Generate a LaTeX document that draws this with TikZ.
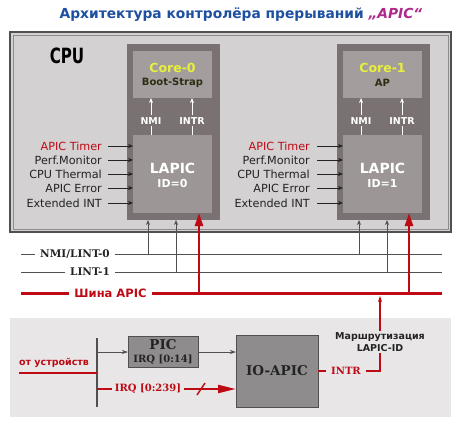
\documentclass[tikz,border=0pt]{standalone}
\usepackage{fontspec}
\usepackage{graphicx}
\setmainfont{DejaVu Sans}
\newfontfamily\slabf{DejaVu Serif}
\usetikzlibrary{arrows.meta}
\definecolor{titleblue}{RGB}{30,80,160}
\definecolor{apicmag}{RGB}{175,40,140}
\definecolor{cpufill}{RGB}{211,209,209}
\definecolor{cpuedge}{RGB}{80,80,80}
\definecolor{cpuinner}{RGB}{140,140,140}
\definecolor{coreout}{RGB}{122,114,114}
\definecolor{corein}{RGB}{163,157,157}
\definecolor{lapicfill}{RGB}{156,150,150}
\definecolor{coreyellow}{RGB}{232,240,60}
\definecolor{olivetxt}{RGB}{45,45,20}
\definecolor{darkred}{RGB}{190,10,20}
\definecolor{busgray}{RGB}{80,80,80}
\definecolor{panelfill}{RGB}{232,230,230}
\definecolor{boxgray}{RGB}{142,140,140}
\definecolor{txtdark}{RGB}{35,35,35}
\begin{document}
\begin{tikzpicture}[x=1pt,y=-1pt,
  box/.style={anchor=north west, inner sep=0pt, outer sep=0pt},
  sidelab/.style={anchor=east, inner sep=1pt, font=\fontsize{11.2}{12}\selectfont, text=txtdark},
  inarrow/.style={draw=txtdark, line width=0.8pt, -{Stealth[length=5pt,width=4pt]}},
  whitearrow/.style={draw=white, line width=0.8pt, -{Stealth[length=5pt,width=4pt]}},
  grayup/.style={draw=busgray, line width=0.8pt, -{Stealth[length=5pt,width=4pt]}},
  redup/.style={draw=darkred, line width=2.5pt, -{Triangle[length=13pt,width=8pt]}},
  thinbus/.style={draw=busgray, line width=0.7pt},
  redbus/.style={draw=darkred, line width=3pt},
  buslab/.style={inner xsep=5pt, inner ysep=1pt, font=\slabf\bfseries\fontsize{10.5}{12}\selectfont, text=txtdark},
  nmilab/.style={fill=coreout, inner xsep=1pt, inner ysep=2pt, font=\bfseries\fontsize{9.5}{11}\selectfont, text=white},
  redthin/.style={draw=darkred, line width=1.2pt},
  redthick/.style={draw=darkred, line width=2.2pt},
  grayarrow/.style={draw=busgray, line width=0.8pt, -{Stealth[length=6pt,width=4pt]}}
]
\path[use as bounding box, fill=white] (0,0) rectangle (461,431);

% title
\node[font=\fontsize{13.8}{15}\selectfont\bfseries, text=titleblue] (title) at (241,15)
  {Архитектура контролёра прерываний {\color{apicmag}\itshape „APIC“}};

% CPU frame
\node[box, fill=cpufill, draw=cpuedge, line width=2pt, minimum width=441pt, minimum height=200pt] (cpu) at (10,32) {};
\node[box, draw=cpuinner, line width=0.8pt, minimum width=435pt, minimum height=194pt] (cpuin) at (13,35) {};
\node[font=\fontsize{21}{21}\selectfont\bfseries, text=black] (cpulab) at (67,56) {\scalebox{0.72}[1]{CPU}};

% cores
\foreach \n/\x/\name/\sub/\idn in {0/127/Core-0/Boot-Strap/0, 1/337/Core-1/AP/1} {
  \node[box, fill=coreout, minimum width=93pt, minimum height=176pt] (core\n) at (\x,44) {};
  \node[box, fill=corein, minimum width=79pt, minimum height=47pt] (cin\n) at (\x+6,51) {};
  \node[box, fill=lapicfill, minimum width=79pt, minimum height=78pt] (lapic\n) at (\x+6,135) {};
  \node[font=\fontsize{12.5}{13}\selectfont\bfseries, text=coreyellow] (ct\n) at (\x+45.5,68) {\name};
  \node[font=\fontsize{10}{11}\selectfont\bfseries, text=olivetxt] (cs\n) at (\x+45.5,83) {\sub};
  \node[font=\fontsize{14}{15}\selectfont\bfseries, text=white] (lt\n) at (\x+45.5,168) {LAPIC};
  \node[font=\fontsize{11}{12}\selectfont\bfseries, text=white] (li\n) at (\x+45.5,183) {ID=\idn};
  \coordinate (nx\n) at (\x+24,135);
  \coordinate (ix\n) at (\x+65,135);
  \draw[whitearrow] (nx\n) -- (nx\n |- cin\n.south) node[nmilab, pos=0.38] (nmi\n) {NMI};
  \draw[whitearrow] (ix\n) -- (ix\n |- cin\n.south) node[nmilab, pos=0.38] (intr\n) {INTR};
}

% side inputs
\foreach \lab/\y/\c [count=\i] in {APIC Timer/146/darkred, Perf.Monitor/160/txtdark, CPU Thermal/174/txtdark, APIC Error/188/txtdark, Extended INT/203/txtdark} {
  \node[sidelab, text=\c] (sa\i) at (103,\y) {\lab};
  \draw[inarrow] ([xshift=5pt]sa\i.east) -- (sa\i.east -| lapic0.west);
  \node[sidelab, text=\c] (sb\i) at (311,\y) {\lab};
  \draw[inarrow] ([xshift=6pt]sb\i.east) -- (sb\i.east -| lapic1.west);
}

% buses
\coordinate (n0L) at (21,254); \coordinate (n0R) at (442,254);
\node[buslab] (n0lab) at (75,254) {NMI/LINT-0};
\draw[thinbus] (n0L) -- (n0lab.west);
\draw[thinbus] (n0lab.east) -- (n0R);
\coordinate (n1L) at (21,272); \coordinate (n1R) at (442,272);
\node[buslab] (n1lab) at (90,272) {LINT-1};
\draw[thinbus] (n1L) -- (n1lab.west);
\draw[thinbus] (n1lab.east) -- (n1R);
\coordinate (bL) at (21,293); \coordinate (bR) at (442,293);
\node[inner xsep=5pt, inner ysep=1pt, font=\fontsize{11.5}{12}\selectfont\bfseries, text=darkred] (blab) at (110.5,293) {Шина APIC};
\draw[redbus] (bL) -- (blab.west);
\draw[redbus] (blab.east) -- (bR);

% bus to LAPIC arrows
\coordinate (g00) at (148,254); \coordinate (g01) at (176,272); \coordinate (r0) at (199,293);
\coordinate (g10) at (359,254); \coordinate (g11) at (387,272); \coordinate (r1) at (409,293);
\draw[grayup] (g00) -- (g00 |- core0.south);
\draw[grayup] (g01) -- (g01 |- core0.south);
\draw[grayup] (g10) -- (g10 |- core1.south);
\draw[grayup] (g11) -- (g11 |- core1.south);
\draw[redup] (r0) -- (r0 |- lapic0.south);
\draw[redup] (r1) -- (r1 |- lapic1.south);

% bottom panel
\node[box, fill=panelfill, minimum width=441pt, minimum height=99pt] (panel) at (10,318) {};
\coordinate (barT) at (97,338); \coordinate (barB) at (97,407);
\draw[draw=busgray, line width=2pt] (barT) -- (barB);
\node[font=\fontsize{9.5}{10}\selectfont\bfseries, text=darkred] (dev) at (54,363) {от устройств};
\coordinate (devL) at (19,373);
\draw[redthick] (devL) -- (devL -| barT);

\node[box, fill=boxgray, draw=busgray, line width=0.8pt, minimum width=70pt, minimum height=31pt] (pic) at (128,336) {};
\node[font=\slabf\bfseries\fontsize{13.5}{14}\selectfont, text=txtdark] (pict) at (163,345) {PIC};
\node[font=\slabf\bfseries\fontsize{10}{11}\selectfont, text=txtdark] (picirq) at (163,360) {IRQ [0:14]};
\node[box, fill=boxgray, draw=busgray, line width=0.8pt, minimum width=82pt, minimum height=72pt] (io) at (236,335) {};
\node[font=\slabf\bfseries\fontsize{13.5}{15}\selectfont, text=txtdark] (iot) at (277,371) {IO-APIC};

\coordinate (a1) at (97,352);
\draw[grayarrow] (a1) -- (a1 -| pic.west);
\draw[grayarrow] (a1 -| pic.east) -- (a1 -| io.west);

\node[inner xsep=3pt, font=\slabf\bfseries\fontsize{10}{11}\selectfont, text=darkred] (irq) at (148,389) {IRQ [0:239]};
\draw[redthick] (barT |- irq) -- (irq.west);
\draw[redthick, -{Triangle[length=18pt,width=8pt]}] (irq.east) -- (irq -| io.west);
\coordinate (sl) at (201,389);
\draw[draw=darkred, line width=1.4pt] ([shift={(-4,6)}]sl) -- ([shift={(4,-6)}]sl);

\node[inner xsep=5pt, font=\slabf\bfseries\fontsize{10}{11}\selectfont, text=darkred] (intr) at (346,371) {INTR};
\node[align=center, inner sep=2pt, font=\fontsize{9.5}{11.5}\selectfont\bfseries, text=txtdark] (route) at (380,342) {Маршрутизация\\LAPIC-ID};
\coordinate (rt) at (380,371);
\coordinate (busin) at (380,296);
\draw[redthin] (io.east |- intr) -- (intr.west);
\draw[redthin] (intr.east) -- (rt) -- (route.south);
\draw[redthin, -{Stealth[length=6pt,width=4pt]}] (route.north) -- (busin);
\end{tikzpicture}
\end{document}
